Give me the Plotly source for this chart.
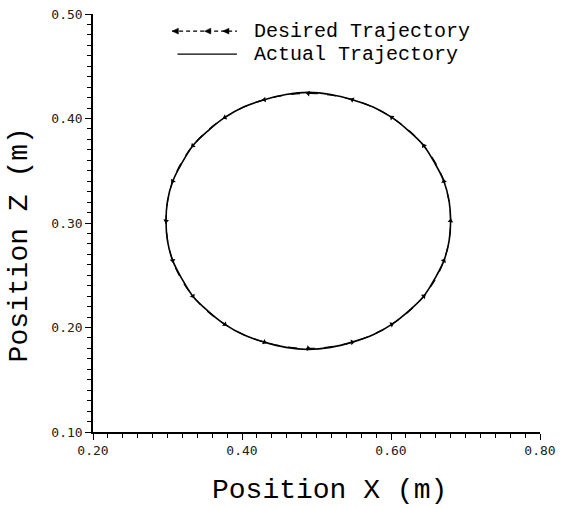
import plotly.graph_objects as go

# Desired trajectory: commanded way-points around the loop (metres)
desired_x = [0.680, 0.671, 0.644, 0.601, 0.548, 0.489, 0.430, 0.377, 0.334, 0.307,
             0.298, 0.307, 0.334, 0.377, 0.430, 0.489, 0.548, 0.601, 0.644, 0.671, 0.680]
desired_z = [0.302, 0.340, 0.374, 0.401, 0.418, 0.424, 0.418, 0.401, 0.374, 0.340,
             0.302, 0.264, 0.230, 0.203, 0.186, 0.180, 0.186, 0.203, 0.230, 0.264, 0.302]

# Actual trajectory: measured end-effector positions (metres)
actual_x = [0.680, 0.678, 0.671, 0.659, 0.644, 0.624, 0.601, 0.576, 0.548, 0.519,
            0.489, 0.459, 0.430, 0.402, 0.377, 0.354, 0.334, 0.319, 0.307, 0.300,
            0.298, 0.300, 0.307, 0.319, 0.334, 0.354, 0.377, 0.402, 0.430, 0.459,
            0.489, 0.519, 0.548, 0.576, 0.601, 0.624, 0.644, 0.659, 0.671, 0.678, 0.680]
actual_z = [0.302, 0.321, 0.340, 0.357, 0.374, 0.388, 0.401, 0.411, 0.418, 0.423,
            0.425, 0.423, 0.418, 0.411, 0.401, 0.388, 0.374, 0.357, 0.340, 0.321,
            0.302, 0.283, 0.264, 0.247, 0.230, 0.216, 0.203, 0.193, 0.186, 0.181,
            0.179, 0.181, 0.186, 0.193, 0.203, 0.216, 0.230, 0.247, 0.264, 0.283, 0.302]

x_ticks = [0.20, 0.40, 0.60, 0.80]
z_ticks = [0.10, 0.20, 0.30, 0.40, 0.50]
series_names = ["Desired Trajectory", "Actual Trajectory"]

fig = go.Figure()

fig.add_trace(go.Scatter(
    x=desired_x, y=desired_z, mode="lines+markers",
    name=series_names[0], showlegend=False,
    line=dict(color="black", width=1.2, dash="dash", shape="spline"),
    marker=dict(symbol="triangle-up", size=5, color="black", angleref="previous"),
))
fig.add_trace(go.Scatter(
    x=actual_x, y=actual_z, mode="lines",
    name=series_names[1], showlegend=False,
    line=dict(color="black", width=1.6, shape="spline"),
))

tick_font = dict(family="DejaVu Sans Mono", size=13, color="#222")
title_font = dict(family="Liberation Mono", size=28, color="black")
key_font = dict(family="Liberation Mono", size=20, color="black")

# Hand-laid legend block in the upper part of the plot
legend_rows = [0.959, 0.904]
key_x0, key_x1, text_x = 0.177, 0.322, 0.356
shapes = []
annotations = []
for row_y, label in zip(legend_rows, series_names):
    annotations.append(dict(
        xref="paper", yref="paper", x=text_x, y=row_y, text=label,
        showarrow=False, xanchor="left", yanchor="middle", font=key_font,
    ))
shapes.append(dict(type="line", xref="paper", yref="paper",
                   x0=key_x0, x1=key_x1, y0=legend_rows[0], y1=legend_rows[0],
                   line=dict(color="black", width=1.2, dash="4px,3px")))
shapes.append(dict(type="line", xref="paper", yref="paper",
                   x0=key_x0 + 0.012, x1=key_x1, y0=legend_rows[1], y1=legend_rows[1],
                   line=dict(color="black", width=1.4)))
# small left-pointing arrowheads on the desired-trajectory key
for ax_frac in (0.0, 0.5, 0.78):
    xa = key_x0 + ax_frac * (key_x1 - key_x0)
    ya = legend_rows[0]
    shapes.append(dict(type="path", xref="paper", yref="paper",
                       path=f"M {xa:.4f},{ya:.4f} L {xa + 0.014:.4f},{ya + 0.007:.4f} "
                            f"L {xa + 0.014:.4f},{ya - 0.007:.4f} Z",
                       fillcolor="black", line=dict(color="black", width=0.5)))

# axis titles
annotations.append(dict(
    xref="paper", yref="paper", x=-0.165, y=0.447, text="Position Z (m)",
    textangle=-90, showarrow=False, xanchor="center", yanchor="middle", font=title_font,
))
annotations.append(dict(
    xref="paper", yref="paper", x=0.530, y=-0.139, text="Position X (m)",
    showarrow=False, xanchor="center", yanchor="middle", font=title_font,
))

fig.update_layout(
    width=576, height=508,
    margin=dict(l=93, r=36, t=14, b=76),
    paper_bgcolor="white", plot_bgcolor="white",
    showlegend=False,
    shapes=shapes,
    annotations=annotations,
    xaxis=dict(
        range=[0.20, 0.80], tickvals=x_ticks, ticktext=[f"{v:.2f}" for v in x_ticks],
        showgrid=False, zeroline=False, showline=True, linecolor="black", linewidth=1.5,
        ticks="outside", ticklen=6, tickcolor="black", tickwidth=1.2,
        minor=dict(dtick=0.02, ticks="outside", ticklen=4, tickcolor="black", tickwidth=1),
        tickfont=tick_font, automargin=False,
    ),
    yaxis=dict(
        range=[0.10, 0.50], tickvals=z_ticks, ticktext=[f"{v:.2f}" for v in z_ticks],
        showgrid=False, zeroline=False, showline=True, linecolor="black", linewidth=1.5,
        ticks="outside", ticklen=6, tickcolor="black", tickwidth=1.2,
        minor=dict(dtick=0.01, ticks="outside", ticklen=4, tickcolor="black", tickwidth=1),
        tickfont=tick_font, automargin=False,
    ),
)

fig.write_html("out.html")
